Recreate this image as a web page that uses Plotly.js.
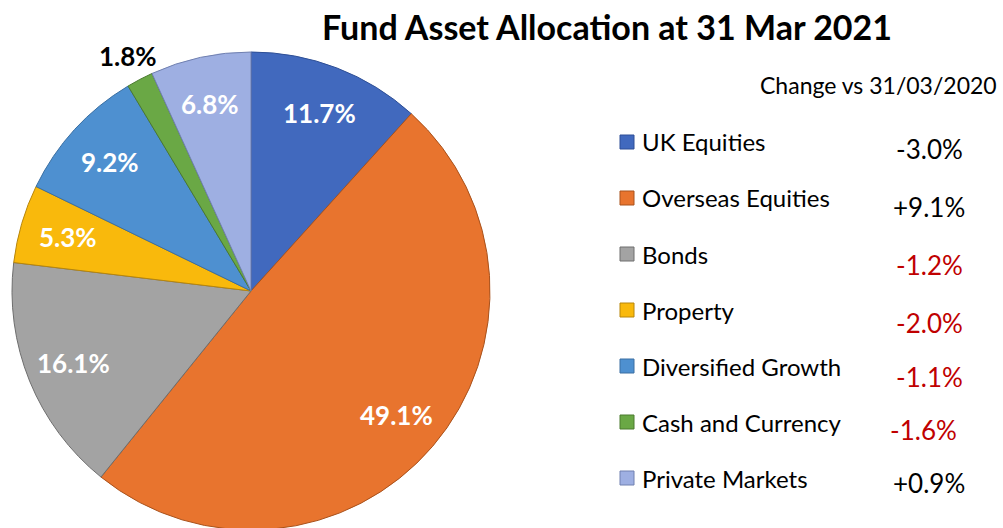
<!DOCTYPE html>
<html><head><meta charset="utf-8">
<script src="https://cdn.plot.ly/plotly-3.0.1.min.js"></script>
<style>html,body{margin:0;padding:0;background:#fff;overflow:hidden}#chart{width:1003px;height:528px;overflow:hidden}</style>
</head><body><div id="chart"></div>
<script>
const categories = ["UK Equities","Overseas Equities","Bonds","Property","Diversified Growth","Cash and Currency","Private Markets"];
const allocation = [11.7, 49.1, 16.1, 5.3, 9.2, 1.8, 6.8];
const changeLabels = ["-3.0%","+9.1%","-1.2%","-2.0%","-1.1%","-1.6%","+0.9%"];
const changeValues = [-3.0, 9.1, -1.2, -2.0, -1.1, -1.6, 0.9];

const colors = ["#4169BE","#E8742E","#A3A3A3","#F9B90C","#4E90D0","#6AA845","#9EAFE2"];
const edges  = ["#2E4F96","#A9521C","#6E6E6E","#B8860B","#3A6FA2","#4A7A2F","#7080B0"];
const labelInside = [true, true, true, true, true, false, true];

const W = 1003, H = 530;
const px = x => x / W, py = y => 1 - y / H;
const FONT = "Lato, 'Open Sans', sans-serif";

// pie geometry (pixels)
const PIE_L = 12, PIE_R = 490, PIE_T = 52, PIE_B = 530;
const cx = (PIE_L + PIE_R) / 2, cy = (PIE_T + PIE_B) / 2, R = (PIE_R - PIE_L) / 2;

const trace = {
  type: "pie",
  labels: categories,
  values: allocation,
  sort: false,
  direction: "clockwise",
  rotation: 0,
  textinfo: "none",
  marker: {colors: colors, line: {color: edges, width: 1}},
  domain: {x: [PIE_L / W, PIE_R / W], y: [1 - PIE_B / H, 1 - PIE_T / H]},
  showlegend: false,
  hoverinfo: "label+percent"
};

const shapes = [], annotations = [];
annotations.push({text: "<b>Fund Asset Allocation at 31 Mar 2021</b>", x: px(607), y: py(27), xref: "paper", yref: "paper",
  showarrow: false, xanchor: "center", yanchor: "middle", font: {family: FONT, size: 34, color: "#000"}});
annotations.push({text: "Change vs 31/03/2020", x: px(999), y: py(85), xref: "paper", yref: "paper",
  showarrow: false, xanchor: "right", yanchor: "middle", font: {family: FONT, size: 23, color: "#000"}});

// slice value labels, placed at each slice's mid-angle
const total = allocation.reduce((a, b) => a + b, 0);
let cum = 0;
allocation.forEach((v, i) => {
  const mid = (cum + v / 2) / total * 2 * Math.PI;
  cum += v;
  const r = labelInside[i] ? 0.8 * R : 1.11 * R;
  annotations.push({text: "<b>" + v.toFixed(1) + "%</b>", x: px(cx + r * Math.sin(mid)), y: py(cy - r * Math.cos(mid)),
    xref: "paper", yref: "paper", showarrow: false, xanchor: "center", yanchor: "middle",
    font: {family: FONT, size: 26, color: labelInside[i] ? "#fff" : "#000"}});
});

const changeY = [149, 207, 265, 323, 377, 430, 483];
const changeX = [929, 929, 929, 929, 929, 923, 929];
categories.forEach((c, i) => {
  const yc = 142 + 56 * i;
  shapes.push({type: "rect", xref: "paper", yref: "paper", x0: px(620), x1: px(634), y0: py(yc - 7), y1: py(yc + 7),
    fillcolor: colors[i], line: {color: edges[i], width: 1}});
  annotations.push({text: c, x: px(640), y: py(yc), xref: "paper", yref: "paper", showarrow: false,
    xanchor: "left", yanchor: "middle", font: {family: FONT, size: 24, color: "#000"}});
  annotations.push({text: changeLabels[i], x: px(changeX[i]), y: py(changeY[i]), xref: "paper", yref: "paper", showarrow: false,
    xanchor: "center", yanchor: "middle",
    font: {family: FONT, size: 26, color: (i === 0 || changeValues[i] > 0) ? "#000" : "#C00000"}});
});

const layout = {
  width: W, height: H,
  margin: {l: 0, r: 0, t: 0, b: 0},
  paper_bgcolor: "#fff",
  showlegend: false,
  shapes: shapes,
  annotations: annotations
};
Plotly.newPlot("chart", [trace], layout, {displayModeBar: false, staticPlot: true});
</script></body></html>
